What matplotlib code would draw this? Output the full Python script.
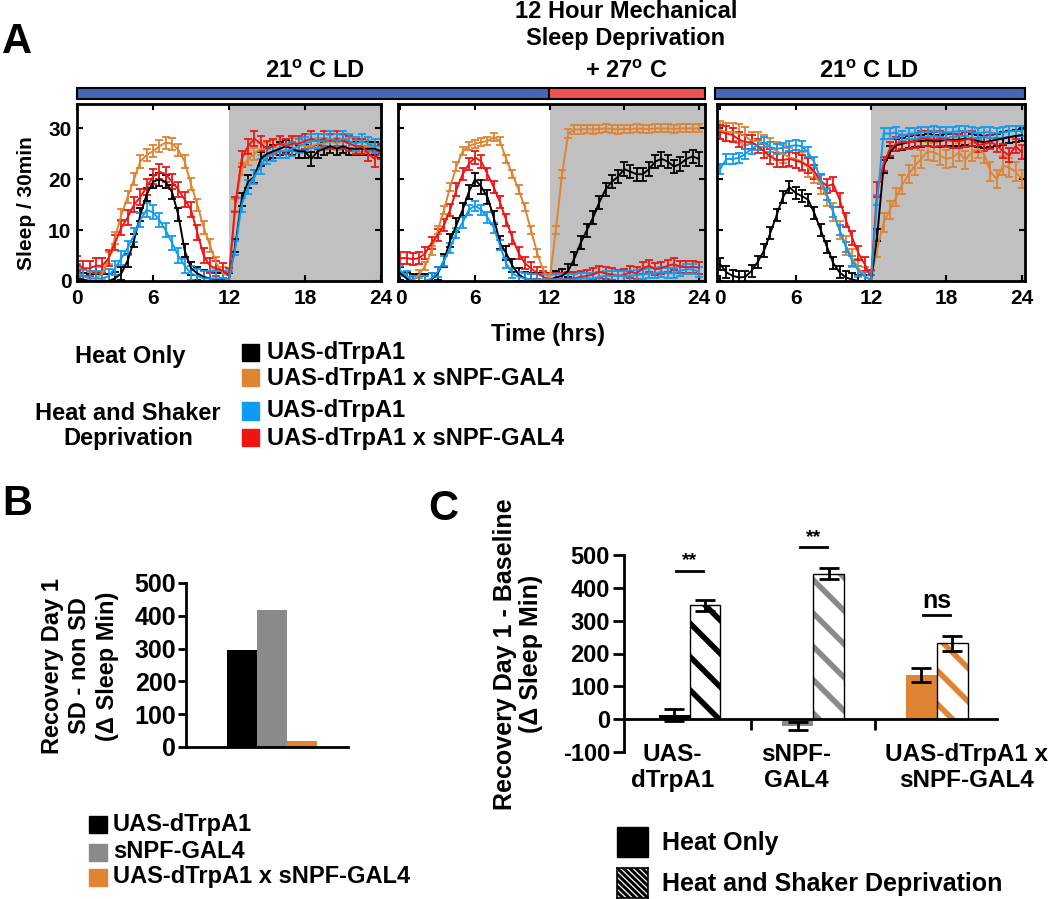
import numpy as np
import matplotlib.pyplot as plt
from matplotlib.patches import Rectangle

plt.rcParams['font.family'] = ['Liberation Sans', 'DejaVu Sans']
plt.rcParams['font.weight'] = 'bold'
plt.rcParams['mathtext.fontset'] = 'custom'
plt.rcParams['mathtext.rm'] = 'Liberation Sans:bold'
plt.rcParams['mathtext.bf'] = 'Liberation Sans:bold'
plt.rcParams['hatch.linewidth'] = 4.0
plt.rcParams['axes.unicode_minus'] = False

W, H = 1050, 899

# ---------------- data ----------------
# panel A: sleep per 30 min, bins at 0, 0.5, ... 24 h
hours = np.arange(49) * 0.5

base_black = [0.5, 0.3, 0, 0, 0, 0, 0.5, 1.5, 4, 8, 13, 17, 19.5, 20, 19.5, 17.5, 13, 6, 2.5, 1.5, 0.8, 0.5, 0.3, 0.3, 0.3,
              7, 16, 19.5, 20.5, 24, 25, 25.5, 26, 26.5, 26, 25.5, 25.5, 24, 25.5, 26, 26.5, 26, 26.5, 26, 26, 26, 26, 26, 25.5]
base_orange = [1.5, 1.0, 0.5, 0.5, 1.5, 4.5, 8.5, 13, 16.5, 20, 23.5, 24.8, 25.5, 26.5, 27.2, 27, 25.8, 23.5, 19, 15, 10.5, 7, 3.5, 1.5, 1.0,
               15, 22, 24, 25, 26, 26, 26.5, 26, 26.5, 27, 27, 26.5, 26.5, 27, 27, 27.5, 27, 27.5, 27, 26.5, 26.5, 26.5, 26, 26]
base_blue = [2, 1, 0.5, 0.5, 0.5, 1, 2.5, 4.5, 6.5, 9, 12, 14, 13.5, 12, 10, 7.5, 5, 3, 1.5, 1, 0.5, 0.5, 0.5, 0.5, 0.3,
             6.5, 15, 18.5, 20.5, 22.5, 24.5, 25, 25.5, 25.5, 26, 26.5, 27, 27.5, 27.5, 27.5, 28, 27.5, 28, 27.5, 27, 27.5, 27, 26.5, 26.5]
base_red = [3.5, 2.5, 2.5, 3, 3, 4.5, 7.5, 10.5, 12.5, 15, 16.5, 18.5, 20.5, 21.5, 21, 19.5, 18, 16, 14, 9.5, 5, 3, 2.5, 2, 1,
            15, 24, 26.5, 28, 27, 26, 26.5, 27, 26.5, 27, 27, 27.5, 28, 27.5, 28, 27.5, 28, 27.5, 27, 26.5, 26.5, 25, 24, 25.5]

sd_black = [1.5, 0.5, 0, 0, 0, 0.3, 1.5, 4, 8, 11, 14, 17.5, 20, 18.5, 16.5, 12.5, 7.5, 5.5, 3, 1.3, 0.5, 0.3, 0.2, 0.2, 0.2,
            0.7, 1, 2, 4.5, 7.5, 10, 12.5, 15.5, 18, 19.5, 20.5, 22, 21.5, 21, 21, 22, 23.5, 24, 23.5, 22.5, 23, 24, 24.5, 24]
sd_orange = [2, 0.7, 0, 1.3, 3, 6, 10, 14, 18.5, 22.5, 25.5, 26.5, 27, 27.3, 27.5, 28.3, 27.5, 24, 21, 18, 14.5, 10, 5.5, 2, 0.3,
             10, 21, 29, 29.8, 29.8, 29.9, 29.8, 29.9, 30, 29.9, 29.8, 29.9, 29.9, 30, 29.9, 29.9, 30, 30, 30, 29.9, 30, 30, 30, 30]
sd_blue = [2, 1, 0, 0, 0, 0.5, 1.8, 4, 6.5, 9.5, 11.5, 14, 14.8, 14, 12.5, 10.5, 7, 3.5, 1.5, 0.8, 0.5, 0.3, 0.3, 0.3, 0.3,
           0.3, 0.3, 0.3, 0.3, 0.5, 0.5, 0.5, 0.8, 1, 1, 1, 1, 1, 1.2, 1.3, 1.5, 1.5, 1.8, 1.5, 1.5, 2, 2.3, 2.3, 1.8]
sd_red = [4.5, 4.5, 4.3, 4.5, 5.5, 7.5, 9, 11, 14, 18, 21, 23, 24.3, 23.5, 21, 18.5, 15.5, 12, 8.5, 5.5, 3.5, 2.5, 1.5, 0.8, 0.3,
          0.3, 0.3, 0.5, 0.5, 0.8, 1, 1.3, 1.8, 1.5, 1.3, 1, 1.2, 1.8, 1.5, 2.5, 3, 2.3, 2.5, 3, 3.3, 2.8, 2.7, 2.8, 2.6]

rec_black = [3.3, 1.7, 1, 0.7, 0.8, 2, 3.8, 6, 9.5, 13, 16.5, 18.5, 17.3, 16.7, 16, 13.3, 10, 6.7, 3.5, 1.7, 0.7, 0.3, 0, 0, 0,
             9, 22.5, 25.3, 26.7, 27, 27.3, 27.5, 27.5, 27.7, 27.5, 27.5, 27.8, 27.7, 27.8, 28, 27.8, 27.5, 27.3, 27.5, 27.8, 28, 28.3, 28.5, 28.7]
rec_orange = [29.7, 29.3, 29.3, 29, 28.5, 27.5, 27.5, 27, 26.3, 25.5, 25, 24.3, 24, 23.5, 22.3, 21, 19, 16.5, 13.5, 10, 7, 4.5, 2.5, 1, 0.2,
              6.5, 11.5, 14, 16.5, 19, 21, 22.7, 24, 25.5, 25.3, 24.7, 24, 24.3, 25.3, 23.8, 25.3, 26, 25, 21.5, 20, 22.7, 22.3, 21.5, 20]
rec_blue = [22, 24, 24, 24.2, 25, 26, 26.7, 27.3, 26.3, 26, 26.2, 26.5, 26.7, 26.5, 25.3, 23.3, 20, 17, 13.5, 10, 6.7, 4, 2, 0.8, 0.2,
            16, 29, 29, 29.2, 28.5, 29, 29, 29.3, 29.3, 29.5, 29.3, 29.2, 29.3, 29.5, 29.5, 29.2, 29, 29.3, 29.2, 29, 29.2, 29.4, 29.5, 29.5]
rec_red = [29.3, 29, 28.7, 27.8, 27.3, 27.3, 26.5, 25.5, 24.5, 23.8, 23.8, 24, 23.7, 23.3, 22.7, 21.5, 19.7, 18.7, 19, 16, 12, 8.5, 5.5, 3.3, 0.7,
           18, 23, 26, 27, 27.3, 27.3, 27.5, 28, 28, 27.8, 28, 27.7, 27.5, 27.5, 27.8, 28, 26.7, 27, 27.3, 26.7, 25.5, 24.7, 26.5, 25.3]

# SEM per series (black, orange, blue, red)
base_sem = [1.3, 1.2, 1.4, 1.5]
sd_sem = [1.3, 0.8, 1.0, 1.2]
rec_sem = [1.2, 1.8, 1.0, 1.4]

# panel B
b_labels = ['UAS-dTrpA1', 'sNPF-GAL4', 'UAS-dTrpA1 x sNPF-GAL4']
b_values = [295, 418, 18]

# panel C
c_groups = ['UAS-\ndTrpA1', 'sNPF-\nGAL4', 'UAS-dTrpA1 x\nsNPF-GAL4']
heat_only = [12, -22, 135]
heat_only_sem = [18, 12, 22]
heat_shaker = [347, 443, 231]
heat_shaker_sem = [17, 17, 23]
sig_text = ['**', '**', 'ns']
sig_y = [452, 524, 318]

# ---------------- style ----------------
BLACK = '#000000'
ORANGE = '#df8431'
BLUE = '#109bf2'
RED = '#ee1515'
GRAY = '#8a8a8a'
SHADE = '#c0c0c0'
BAR_BLUE = '#4468b5'
BAR_RED = '#ee5352'


def box(x0, x1, y0, y1):
    return [x0 / W, 1 - y1 / H, (x1 - x0) / W, (y1 - y0) / H]


def ftext(x, y, s, **kw):
    fig.text(x / W, 1 - y / H, s, **kw)


fig = plt.figure(figsize=(10.5, 8.99), dpi=100)

# ---------------- panel A ----------------
days = [
    (base_black, base_orange, base_blue, base_red, base_sem),
    (sd_black, sd_orange, sd_blue, sd_red, sd_sem),
    (rec_black, rec_orange, rec_blue, rec_red, rec_sem),
]
ax_px = [(77, 381), (398, 705), (717, 1025)]
xlims = [(0, 24), (-0.2, 24.5), (-0.25, 24.25)]

for i, (blk, org, blu, red, sem) in enumerate(days):
    ax = fig.add_axes(box(ax_px[i][0], ax_px[i][1], 104, 281))
    ax.set_xlim(*xlims[i])
    ax.set_ylim(0, 34.8)
    ax.axvspan(12, xlims[i][1], color=SHADE, zorder=0, lw=0)
    for vals, c, s in [(org, ORANGE, sem[1]), (blk, BLACK, sem[0]),
                       (red, RED, sem[3]), (blu, BLUE, sem[2])]:
        ax.errorbar(hours, vals, yerr=s, color=c, lw=1.4, elinewidth=1.3,
                    capsize=3, capthick=1.3)
    ax.set_xticks([0, 6, 12, 18, 24])
    ax.set_yticks([0, 10, 20, 30])
    ax.tick_params(direction='in', length=4, width=1.5, top=True, right=True,
                   labelsize=15, pad=6)
    ax.tick_params(axis='y', pad=4)
    if i > 0:
        ax.tick_params(labelleft=False)
    for sp in ax.spines.values():
        sp.set_linewidth(2)

ftext(27, 203, 'Sleep / 30min', rotation=90, ha='center', va='center', fontsize=15)
ftext(548, 335, 'Time (hrs)', ha='center', va='center', fontsize=17)

# condition bars above panel A
for x0, x1, c in [(77, 549, BAR_BLUE), (549, 705, BAR_RED), (715, 1025, BAR_BLUE)]:
    fig.patches.append(Rectangle((x0 / W, 1 - 99 / H), (x1 - x0) / W, 11 / H,
                                 transform=fig.transFigure, facecolor=c,
                                 edgecolor='black', lw=1.5))
ftext(315, 78, r'21$^{\mathregular{o}}$ C LD', ha='center', va='baseline', fontsize=17)
ftext(626, 78, r'+ 27$^{\mathregular{o}}$ C', ha='center', va='baseline', fontsize=17)
ftext(869, 78, r'21$^{\mathregular{o}}$ C LD', ha='center', va='baseline', fontsize=17)
ftext(626, 18, '12 Hour Mechanical', ha='center', va='baseline', fontsize=17)
ftext(626, 45, 'Sleep Deprivation', ha='center', va='baseline', fontsize=17)
ftext(2, 53, 'A', ha='left', va='baseline', fontsize=30)

# legend A
ftext(130, 357, 'Heat Only', ha='center', va='center', fontsize=17)
ftext(128, 426, 'Heat and Shaker\nDeprivation', ha='center', va='center',
      fontsize=17, linespacing=1.15)
for yc, c, lab in [(353, BLACK, 'UAS-dTrpA1'), (378, ORANGE, 'UAS-dTrpA1 x sNPF-GAL4'),
                   (411, BLUE, 'UAS-dTrpA1'), (438, RED, 'UAS-dTrpA1 x sNPF-GAL4')]:
    fig.patches.append(Rectangle((242 / W, 1 - (yc + 8.5) / H), 17 / W, 17 / H,
                                 transform=fig.transFigure, color=c))
    ftext(267, yc, lab, ha='left', va='center', fontsize=17)

# ---------------- panel B ----------------
axb = fig.add_axes(box(186, 348, 583, 747))
axb.bar(range(3), b_values, width=1.0, color=[BLACK, GRAY, ORANGE])
axb.set_xlim(-1.867, 3.533)
axb.set_ylim(0, 500)
axb.set_xticks([])
axb.set_yticks(range(0, 501, 100))
axb.spines[['top', 'right']].set_visible(False)
axb.spines[['left', 'bottom']].set_linewidth(2)
axb.tick_params(axis='y', direction='out', length=6, width=2, labelsize=18, pad=1)
ftext(80, 666, 'Recovery Day 1\nSD - non SD\n(\u0394 Sleep Min)', rotation=90,
      ha='center', va='center', fontsize=17, linespacing=1.25)
ftext(2, 515, 'B', ha='left', va='baseline', fontsize=30)
for yc, c, lab in zip([824, 852, 877], [BLACK, GRAY, ORANGE], b_labels):
    fig.patches.append(Rectangle((89 / W, 1 - (yc + 8.5) / H), 18 / W, 17 / H,
                                 transform=fig.transFigure, color=c))
    ftext(113, yc, lab, ha='left', va='center', fontsize=17)

# ---------------- panel C ----------------
axc = fig.add_axes(box(624, 997, 555, 752))
x = np.arange(3)
w = 0.25
cols = [BLACK, GRAY, ORANGE]
ekw = dict(ecolor='black', elinewidth=2, capsize=7, capthick=2)
axc.bar(x - w / 2, heat_only, w, color=cols, lw=0)
axc.errorbar(x - w / 2, heat_only, yerr=heat_only_sem, fmt='none', **ekw)
axc.bar(x + w / 2, heat_shaker, w, color='white', edgecolor=cols, hatch='\\', lw=0)
axc.bar(x + w / 2, heat_shaker, w, fill=False, edgecolor='black', lw=1)
axc.errorbar(x + w / 2, heat_shaker, yerr=heat_shaker_sem, fmt='none', **ekw)
for xi, t, yv in zip(x, sig_text, sig_y):
    axc.plot([xi - 0.11, xi + 0.11], [yv, yv], color='black', lw=2, clip_on=False)
    axc.text(xi, yv + 4, t, ha='center', va='bottom',
             fontsize=14 if t == '**' else 18, clip_on=False)
axc.set_xlim(-0.53, 2.486)
axc.set_ylim(-100, 500)
axc.set_yticks(range(-100, 501, 100))
# group labels sit a little off the bar centres, as in the original
axc.set_xticks(x + np.array([-0.14, -0.14, 0.24]))
axc.set_xticklabels(c_groups, linespacing=1.1)
axc.set_xticks([0.5, 1.5], minor=True)
axc.spines[['top', 'right']].set_visible(False)
axc.spines['bottom'].set_position(('data', 0))
axc.spines[['left', 'bottom']].set_linewidth(2)
axc.tick_params(axis='x', which='major', length=0, pad=17, labelsize=17.5)
axc.tick_params(axis='x', which='minor', direction='out', length=8, width=2)
axc.tick_params(axis='y', direction='out', length=8, width=2, labelsize=17, pad=2)
ftext(518, 654, 'Recovery Day 1 - Baseline\n(\u0394 Sleep Min)', rotation=90,
      ha='center', va='center', fontsize=18, linespacing=1.15)
ftext(428, 520, 'C', ha='left', va='baseline', fontsize=30)

# legend C
fig.patches.append(Rectangle((617 / W, 1 - 857 / H), 31 / W, 30 / H,
                             transform=fig.transFigure, color=BLACK))
lax = fig.add_axes(box(617, 648, 868, 898))
lax.set_xlim(0, 1)
lax.set_ylim(0, 1)
for k in np.arange(-1, 1.01, 0.2):
    lax.plot([k, k + 1], [1, 0], color='black', lw=2.2)
lax.set_xticks([])
lax.set_yticks([])
for sp in lax.spines.values():
    sp.set_linewidth(1.2)
ftext(662, 843, 'Heat Only', ha='left', va='center', fontsize=18)
ftext(662, 884, 'Heat and Shaker Deprivation', ha='left', va='center', fontsize=18)

fig.savefig('out.png', dpi=100)
